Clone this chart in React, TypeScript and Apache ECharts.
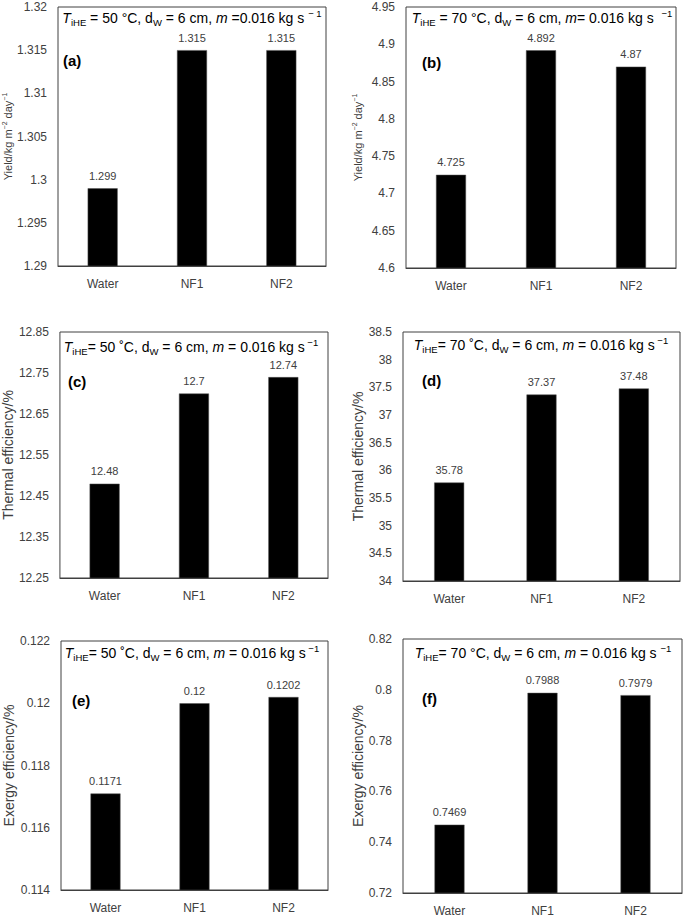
import React, { useEffect, useRef } from "react";
import * as echarts from "echarts";

const categories = ["Water", "NF1", "NF2"];

const yieldA = [1.299, 1.315, 1.315];
const yieldB = [4.725, 4.892, 4.87];
const thermalC = [12.48, 12.7, 12.74];
const thermalD = [35.78, 37.37, 37.48];
const exergyE = [0.1171, 0.12, 0.1202];
const exergyF = [0.7469, 0.7988, 0.7979];

const axisA = { min: 1.29, max: 1.32, interval: 0.005 };
const axisB = { min: 4.6, max: 4.95, interval: 0.05 };
const axisC = { min: 12.25, max: 12.85, interval: 0.05 };
const axisD = { min: 34, max: 38.5, interval: 0.5 };
const axisE = { min: 0.114, max: 0.122, interval: 0.002 };
const axisF = { min: 0.72, max: 0.82, interval: 0.02 };

const titleA = "{i|T}{sub|iHE} = 50 °C, d{sub|W} = 6 cm, {i|m} =0.016 kg s {sup|− 1}";
const titleB = "{i|T}{sub|iHE} = 70 °C, d{sub|W} = 6 cm, {i|m}= 0.016 kg s  {sup|−1}";
const titleC = "{i|T}{sub|iHE}= 50 ˚C, d{sub|W} = 6 cm, {i|m} = 0.016 kg s{sup| −1}";
const titleD = "{i|T}{sub|iHE}= 70 ˚C, d{sub|W} = 6 cm, {i|m} = 0.016 kg s{sup| −1}";
const titleE = "{i|T}{sub|iHE}= 50 ˚C, d{sub|W} = 6 cm, {i|m} = 0.016 kg s{sup| −1}";
const titleF = "{i|T}{sub|iHE}= 70 °C, d{sub|W} = 6 cm, {i|m} = 0.016 kg s {sup|−1}";

const FONT = "'Liberation Sans', Arial, sans-serif";
const GRAY = "#404040";

export default function App() {
  const ref = useRef<HTMLDivElement>(null);
  useEffect(() => {
    document.body.style.margin = "0";
    if (!ref.current) return;
    const chart = echarts.init(ref.current, undefined, { renderer: "svg" });

    const panels = [
      { data: yieldA, ax: axisA, grid: { left: 57, top: 7, width: 269, height: 259 }, name: "Yield/kg m{sup|−2} day{sup|−1}", nameSize: 11, nameGap: 44, title: titleA, tx: 192, ty: 18, letter: "(a)", lx: 63, ly: 60 },
      { data: yieldB, ax: axisB, grid: { left: 406, top: 7, width: 270, height: 261 }, name: "Yield/kg m{sup|−2} day{sup|−1}", nameSize: 11, nameGap: 42, title: titleB, tx: 542, ty: 18, letter: "(b)", lx: 422, ly: 62 },
      { data: thermalC, ax: axisC, grid: { left: 58, top: 332, width: 270, height: 246 }, name: "Thermal efficiency/%", nameSize: 14, nameGap: 41, title: titleC, tx: 191, ty: 347, letter: "(c)", lx: 68, ly: 381 },
      { data: thermalD, ax: axisD, grid: { left: 403, top: 332, width: 277, height: 249 }, name: "Thermal efficiency/%", nameSize: 14, nameGap: 36, title: titleD, tx: 541, ty: 345, letter: "(d)", lx: 422, ly: 380 },
      { data: exergyE, ax: axisE, grid: { left: 61, top: 641, width: 267, height: 249 }, name: "Exergy efficiency/%", nameSize: 14, nameGap: 44, title: titleE, tx: 192, ty: 653, letter: "(e)", lx: 72, ly: 700 },
      { data: exergyF, ax: axisF, grid: { left: 403, top: 639, width: 279, height: 254 }, name: "Exergy efficiency/%", nameSize: 14, nameGap: 36, title: titleF, tx: 543, ty: 653, letter: "(f)", lx: 422, ly: 698 },
    ];

    const TS = 14;
    const titleRich = {
      i: { fontStyle: "italic", fontSize: TS, fontFamily: FONT, fill: "#000", color: "#000" },
      sub: { fontSize: 9.5, fontFamily: FONT, padding: [9, 0, 0, 0], fill: "#000", color: "#000" },
      sup: { fontSize: 9.5, fontFamily: FONT, padding: [0, 0, 9, 0], fill: "#000", color: "#000" },
    };

    const option: any = {
      animation: false,
      backgroundColor: "#fff",
      grid: panels.map((p) => ({
        ...p.grid,
        show: true,
        borderColor: GRAY,
        borderWidth: 1,
        backgroundColor: "transparent",
        containLabel: false,
      })),
      xAxis: panels.map((p, i) => ({
        type: "category",
        gridIndex: i,
        data: categories,
        axisLine: { show: true, lineStyle: { color: GRAY, width: 1 } },
        axisTick: { show: false },
        axisLabel: { color: GRAY, fontSize: 12, fontFamily: FONT, margin: 12 },
      })),
      yAxis: panels.map((p, i) => ({
        type: "value",
        gridIndex: i,
        min: p.ax.min,
        max: p.ax.max,
        interval: p.ax.interval,
        splitLine: { show: false },
        axisLine: { show: false },
        axisTick: { show: false },
        axisLabel: {
          color: GRAY,
          fontSize: 12,
          fontFamily: FONT,
          margin: 11,
          formatter: (v: number) => {
            if (i === 2) {
              const k = Math.round((v - p.ax.min) / p.ax.interval);
              return k % 2 === 0 ? String(Number(v.toFixed(2))) : "";
            }
            return String(Number(v.toFixed(4)));
          },
        },
        name: p.name,
        nameLocation: "middle",
        nameGap: p.nameGap,
        nameTextStyle: {
          color: GRAY,
          fontSize: p.nameSize,
          fontFamily: FONT,
          rich: {
            sup: { fontSize: 7, fontFamily: FONT, color: GRAY, padding: [0, 0, 6, 0] },
          },
        },
      })),
      series: panels.map((p, i) => ({
        type: "bar",
        xAxisIndex: i,
        yAxisIndex: i,
        data: p.data,
        barWidth: 30,
        itemStyle: { color: "#000", borderColor: "#555", borderWidth: 0.5 },
        label: {
          show: true,
          position: "top",
          distance: 7,
          color: GRAY,
          fontSize: 11,
          fontFamily: FONT,
        },
      })),
      graphic: [
        ...panels.map((p) => ({
          type: "text",
          x: p.tx,
          y: p.ty,
          style: {
            text: p.title,
            fontSize: TS,
            fontFamily: FONT,
            fill: "#000",
            align: "center",
            verticalAlign: "middle",
            rich: titleRich,
          },
        })),
        ...panels.map((p) => ({
          type: "text",
          x: p.lx,
          y: p.ly,
          style: {
            text: p.letter,
            fontSize: 15,
            fontWeight: "bold",
            fontFamily: FONT,
            fill: "#000",
            align: "left",
            verticalAlign: "middle",
          },
        })),
      ],
    };

    chart.setOption(option);
    return () => chart.dispose();
  }, []);

  return <div ref={ref} style={{ width: 685, height: 917 }} />;
}
